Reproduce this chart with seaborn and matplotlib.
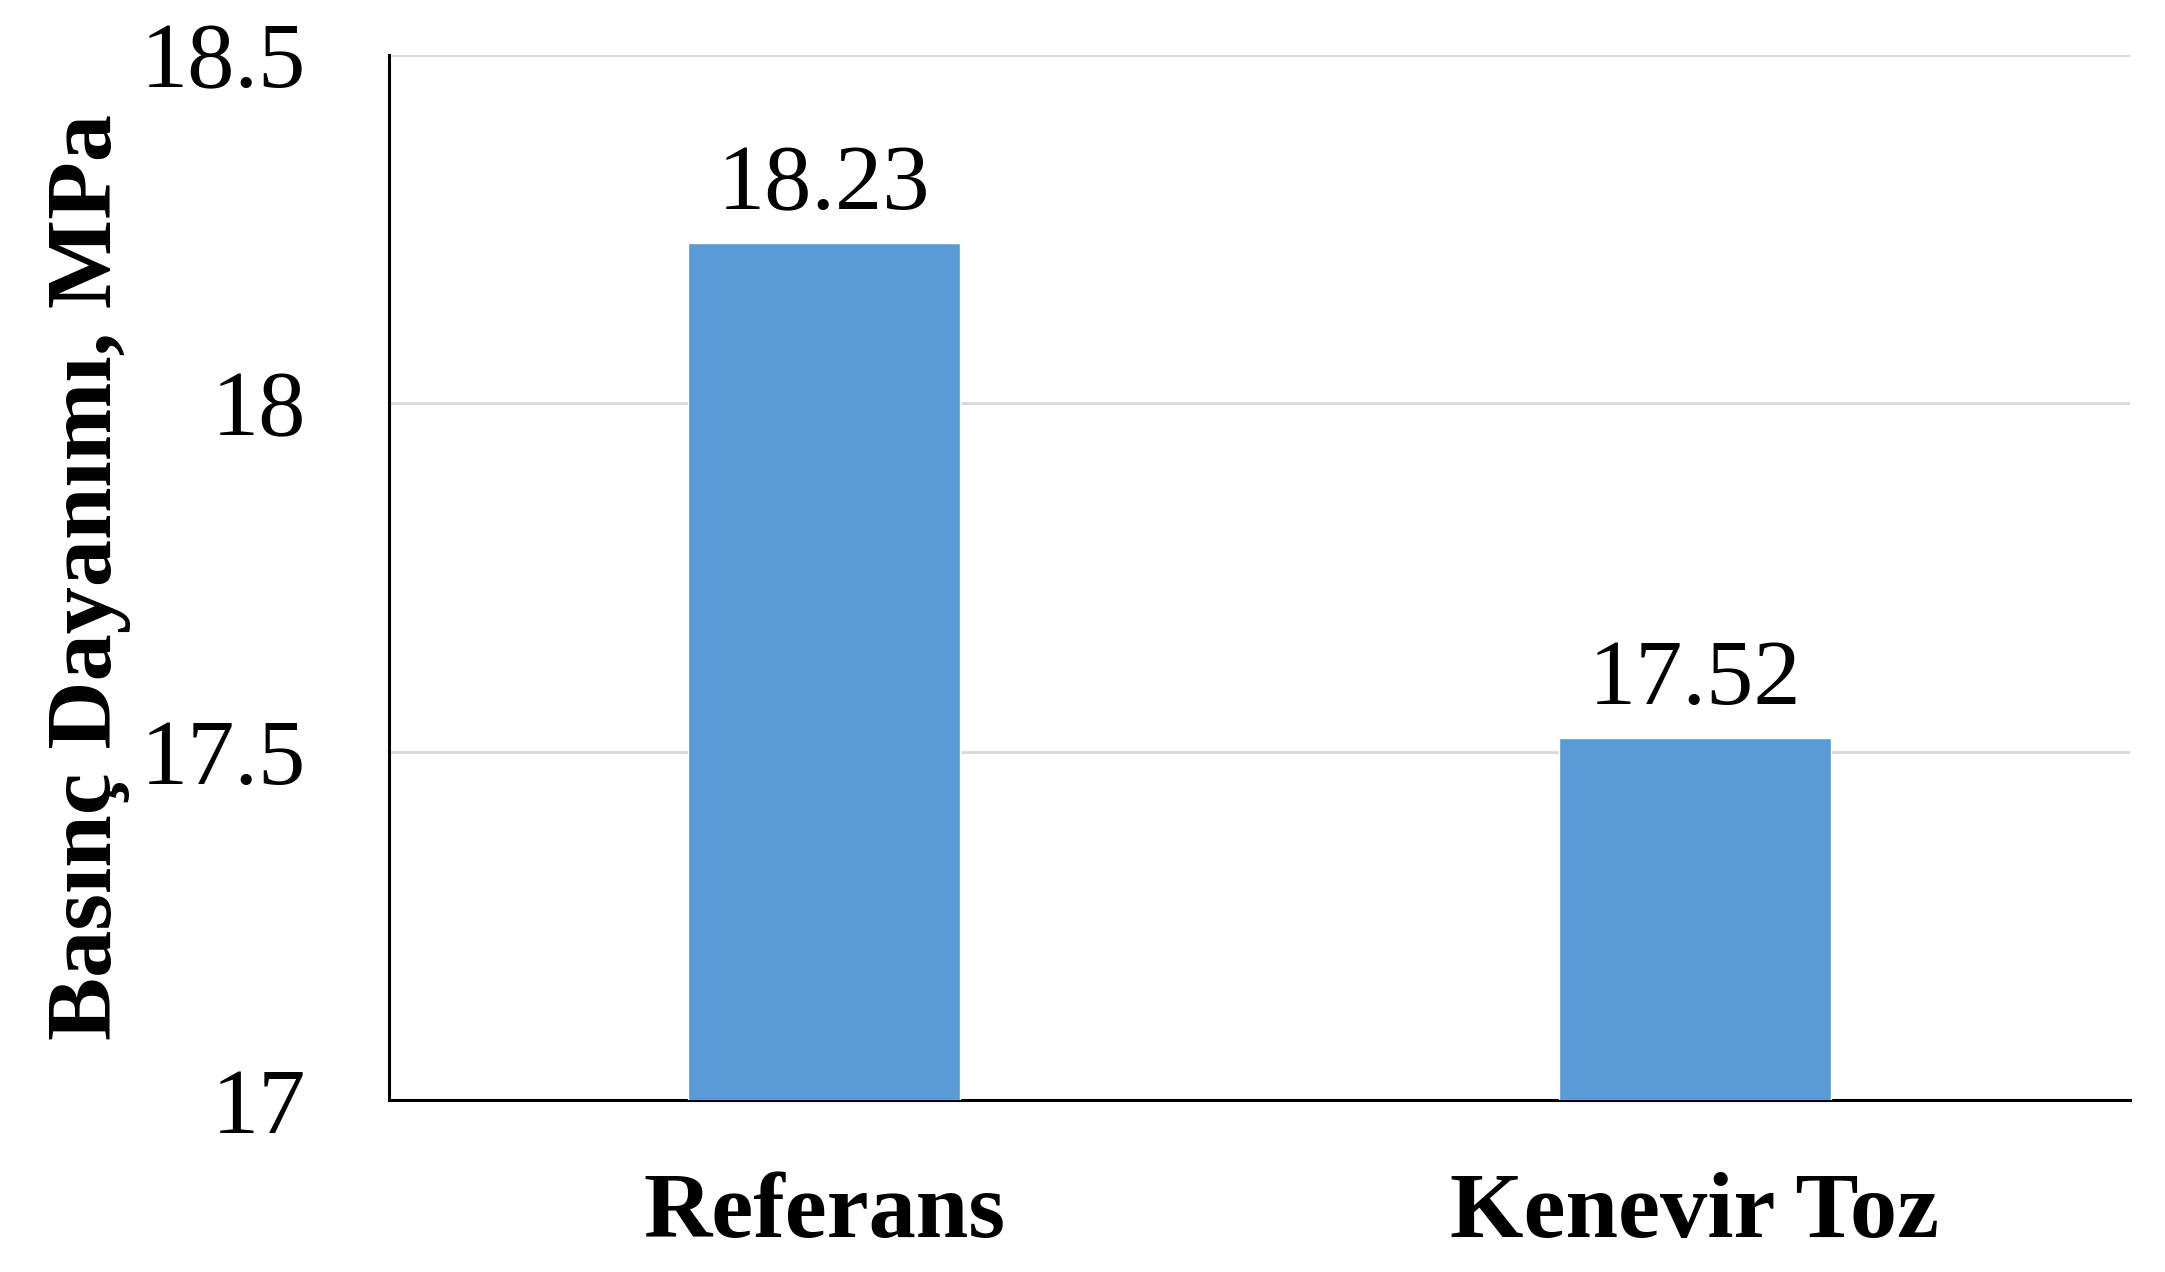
import matplotlib
matplotlib.use('Agg')
import matplotlib.pyplot as plt
import pandas as pd
import seaborn as sns

categories = ['Referans', 'Kenevir Toz']
strength = [18.23, 17.52]
y_ticks = [17, 17.5, 18, 18.5]
y_tick_labels = ['17', '17.5', '18', '18.5']

sns.set_theme(style='white')
plt.rcParams['font.family'] = ['Liberation Serif', 'DejaVu Serif']

df = pd.DataFrame({'cat': categories, 'val': strength})

fig = plt.figure(figsize=(21.65, 12.72), dpi=100)
ax = fig.add_axes([0.1797, 0.1352, 0.8041, 0.8216])

sns.barplot(data=df, x='cat', y='val', color='#5B9BD5', saturation=1,
            width=0.3125, ax=ax, zorder=3)

ax.set_ylim(17, 18.5)
ax.set_yticks(y_ticks)
ax.set_yticklabels(y_tick_labels)
ax.yaxis.grid(True, color='#d9d9d9', linewidth=2, zorder=0)
ax.set_axisbelow(True)

for side in ['top', 'right']:
    ax.spines[side].set_visible(False)
for side in ['left', 'bottom']:
    ax.spines[side].set_color('black')
    ax.spines[side].set_linewidth(2.2)

ax.tick_params(axis='y', length=0, pad=60, labelsize=68, colors='black')
ax.tick_params(axis='x', length=0, pad=52, labelsize=68, colors='black')
for lab in ax.get_xticklabels():
    lab.set_fontweight('bold')

for i, v in enumerate(strength):
    ax.annotate(f'{v:.2f}', xy=(i, v), xytext=(0, 24), textcoords='offset points',
                ha='center', va='baseline', fontsize=68, color='black')

ax.set_xlabel('')
ax.set_ylabel('Basınç Dayanımı, MPa', fontsize=68, fontweight='bold', color='black')
ax.yaxis.set_label_coords(-0.148, 0.5)

fig.savefig('out.png', dpi=100)
